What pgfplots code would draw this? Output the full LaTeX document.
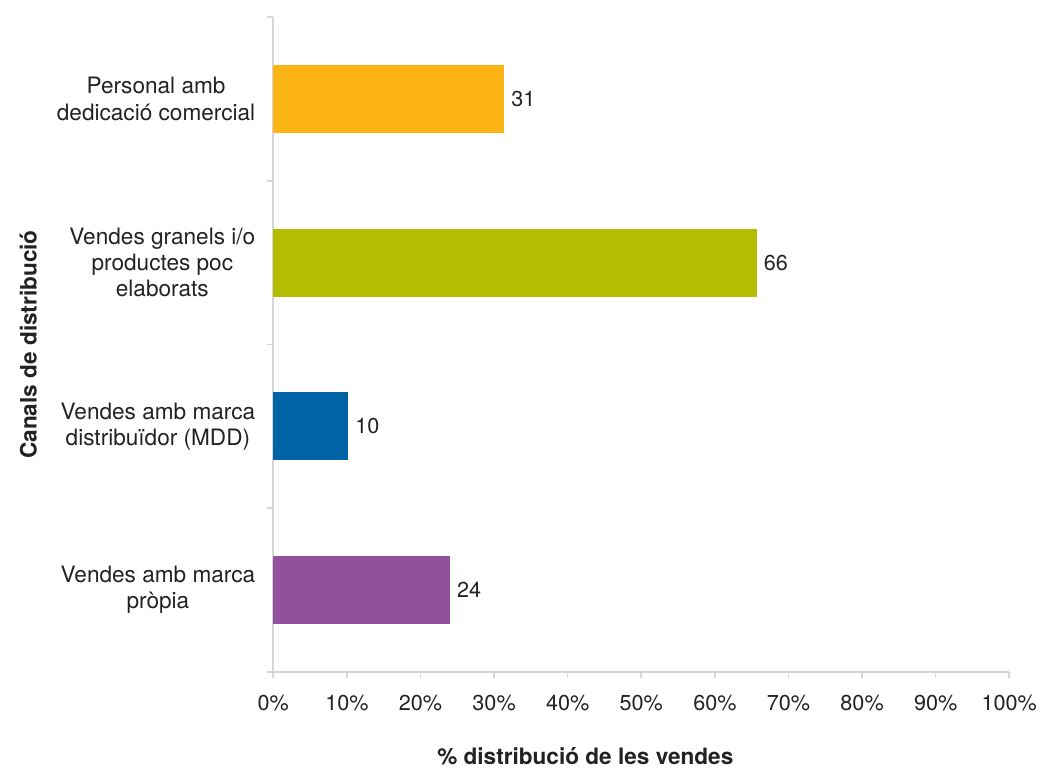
\documentclass[border=0pt]{standalone}
\usepackage{fontspec}
\setmainfont{TeX Gyre Heros}
\usepackage{pgfplots}
\pgfplotsset{compat=1.18}
\definecolor{cOr}{HTML}{FDB515}
\definecolor{cGr}{HTML}{B5BD00}
\definecolor{cBl}{HTML}{0063A6}
\definecolor{cPu}{HTML}{92519D}
\definecolor{axgray}{HTML}{D6D6D6}
\definecolor{txt}{HTML}{222222}
\begin{document}
\begin{tikzpicture}[font=\fontsize{10.5}{12.5}\selectfont, text=txt]
\begin{axis}[name=ax, xbar, bar width=34pt, bar shift=0pt,
  width=368pt, height=327.5pt, scale only axis,
  xmin=0, xmax=100, ymin=-0.5, ymax=3.5,
  axis lines*=left, axis line style={axgray, line width=0.8pt},
  xtick={0,10,...,100}, xticklabel={\pgfmathprintnumber{\tick}\%},
  ytick={0,1,2,3},
  yticklabels={{Vendes amb marca\\pròpia},{Vendes amb marca\\distribuïdor (MDD)},{Vendes granels i/o\\productes poc\\elaborats},{Personal amb\\dedicació comercial}},
  minor ytick={-0.5,0.5,1.5,2.5,3.5},
  tick align=outside, major tick length=3pt, minor tick length=3pt,
  every tick/.style={axgray, line width=0.8pt},
  major y tick style={draw=none},
  yticklabel style={align=center, xshift=-2.5pt, text=txt, font=\fontsize{11.3}{13.1}\selectfont},
  xticklabel style={yshift=-5pt, text=txt, font=\fontsize{10.8}{12.5}\selectfont},
  /pgf/number format/assume math mode=true,
  xlabel={\% distribució de les vendes},
  ylabel={Canals de distribució},
  xlabel style={at={(axis description cs:0.5,0)}, anchor=center, yshift=-42pt, xshift=-28pt, font=\bfseries\fontsize{11.3}{12.5}\selectfont},
  ylabel style={at={(axis description cs:0,0.5)}, anchor=center, yshift=122.5pt, font=\bfseries\fontsize{11.3}{12.5}\selectfont},
  nodes near coords, point meta=explicit symbolic,
  every node near coord/.style={anchor=west, text=txt, font=\fontsize{10.8}{12.5}\selectfont},
  clip=false,
]
\addplot[fill=cOr, draw=none] coordinates {(31.4,3) [31]};
\addplot[fill=cGr, draw=none] coordinates {(65.7,2) [66]};
\addplot[fill=cBl, draw=none] coordinates {(10.2,1) [10]};
\addplot[fill=cPu, draw=none] coordinates {(24.0,0) [24]};
\end{axis}
\pgfresetboundingbox
\path[use as bounding box] ([xshift=-136.65pt,yshift=-48.5pt]ax.south west) rectangle ([xshift=15.35pt,yshift=8.5pt]ax.north east);
\end{tikzpicture}
\end{document}
